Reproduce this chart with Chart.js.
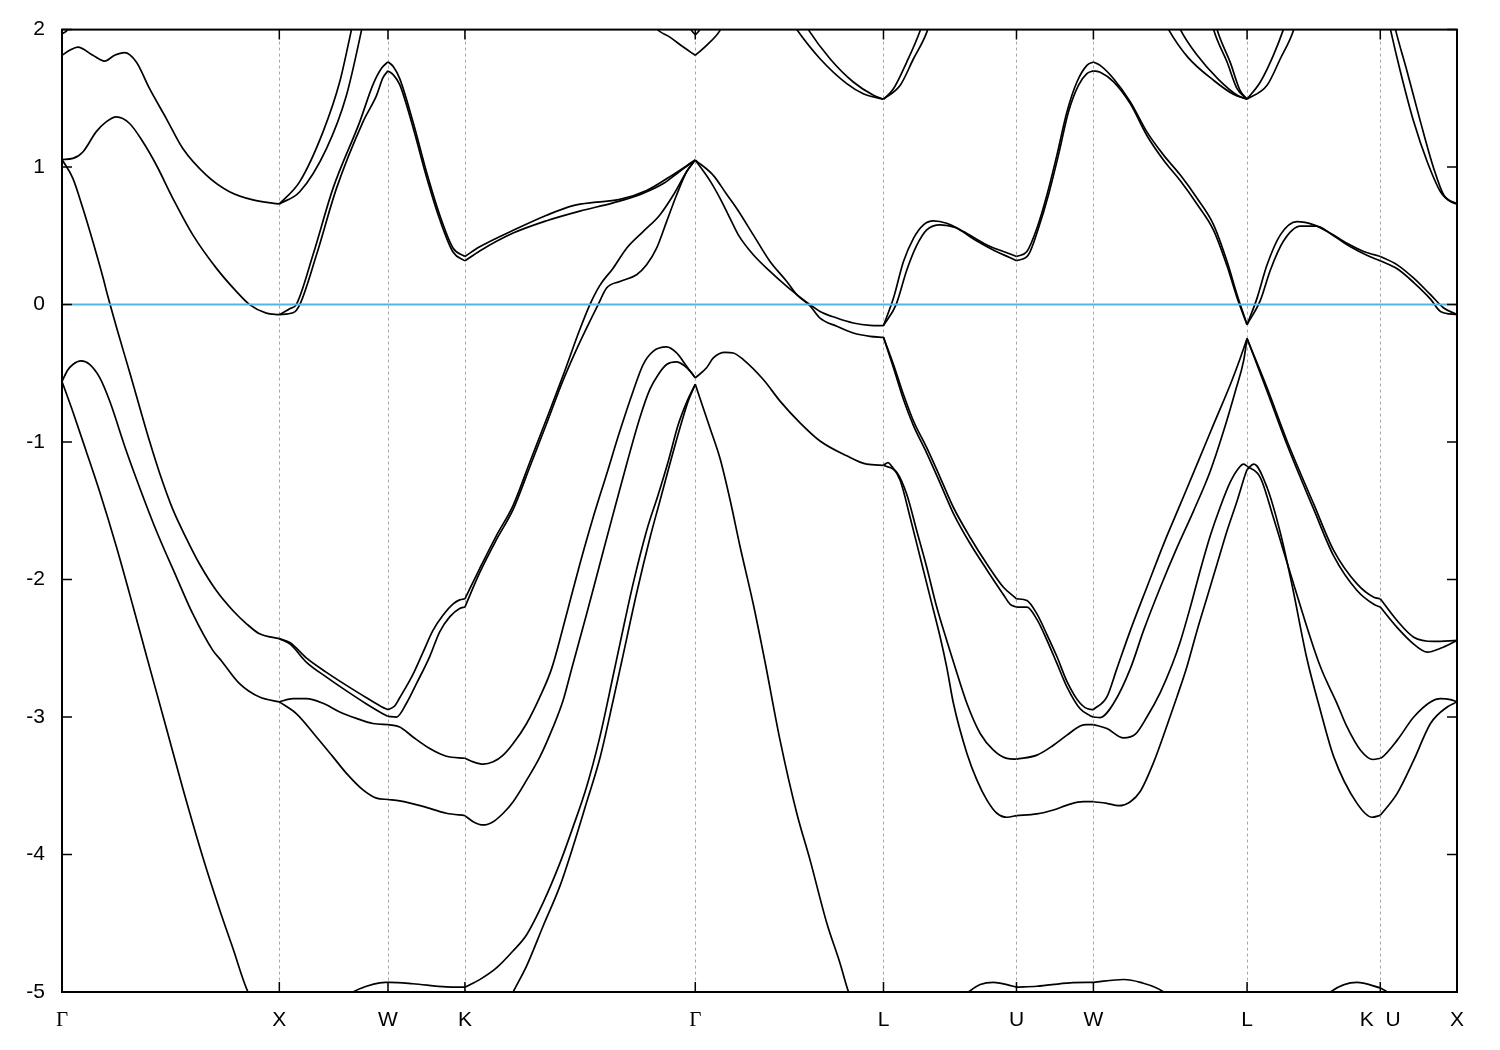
<!DOCTYPE html>
<html>
<head>
<meta charset="utf-8">
<script src="https://cdn.jsdelivr.net/npm/chart.js@4.4.1/dist/chart.umd.min.js"></script>
<style>
    html, body { margin: 0; padding: 0; background: #fff; }
    #wrap { width: 1500px; height: 1050px; }
</style>
</head>
<body>
<div id="wrap"><canvas id="bands" width="1500" height="1050"></canvas></div>
<script>
// high symmetry points along the path (2pi/a units)
var kPoints = [0, 1.0, 1.5, 1.854, 2.914, 3.780, 4.392, 4.746, 5.453, 6.066, 6.419];
var kLabels = ['Γ', 'X', 'W', 'K', 'Γ', 'L', 'U', 'W', 'L', 'K  U', 'X'];
var energyTicks = [2, 1, 0, -1, -2, -3, -4, -5];
var fermiLevel = 0;

// band lines per path segment, [k, E(eV)]
var bandsGX = [
    [[0,-0.56],[0.05,-0.78],[0.111,-1.065],[0.173,-1.36],[0.25,-1.76],[0.326,-2.19],[0.388,-2.55],[0.48,-3.08],[0.556,-3.52],[0.648,-4.02],[0.725,-4.4],[0.786,-4.68],[0.856,-5.0],[1.0,-5.3]],
    [[0,-0.56],[0.025,-0.48],[0.05,-0.436],[0.088,-0.41],[0.127,-0.435],[0.173,-0.53],[0.219,-0.7],[0.296,-1.065],[0.357,-1.33],[0.434,-1.645],[0.526,-1.98],[0.602,-2.25],[0.694,-2.515],[0.733,-2.59],[0.817,-2.757],[0.909,-2.855],[1.0,-2.89]],
    [[0,1.055],[0.05,0.918],[0.096,0.7],[0.142,0.458],[0.188,0.2],[0.211,0.06],[0.257,-0.2],[0.311,-0.49],[0.357,-0.745],[0.403,-0.995],[0.449,-1.225],[0.51,-1.49],[0.572,-1.7],[0.633,-1.887],[0.71,-2.08],[0.786,-2.225],[0.848,-2.32],[0.909,-2.395],[1.0,-2.43]],
    [[0,1.055],[0.05,1.063],[0.096,1.11],[0.157,1.256],[0.203,1.329],[0.25,1.365],[0.311,1.317],[0.372,1.184],[0.434,1.015],[0.51,0.773],[0.602,0.507],[0.71,0.265],[0.802,0.096],[0.863,0.0],[0.94,-0.062],[1.0,-0.073]],
    [[0,1.813],[0.035,1.849],[0.073,1.873],[0.142,1.813],[0.196,1.771],[0.242,1.813],[0.288,1.832],[0.342,1.764],[0.403,1.57],[0.48,1.353],[0.556,1.135],[0.664,0.942],[0.771,0.821],[0.879,0.761],[1.0,0.732]],
    [[0,1.97],[0.025,2.0],[0.06,2.2]]
];
var bandsXW = [
    [[1.0,-5.3],[1.15,-5.22],[1.339,-5.0],[1.401,-4.958],[1.462,-4.933],[1.5,-4.93]],
    [[1.0,-2.89],[1.078,-2.975],[1.171,-3.145],[1.247,-3.29],[1.309,-3.41],[1.385,-3.53],[1.447,-3.59],[1.5,-3.6]],
    [[1.0,-2.89],[1.063,-2.866],[1.124,-2.866],[1.201,-2.9],[1.278,-2.963],[1.355,-3.01],[1.431,-3.047],[1.5,-3.055]],
    [[1.0,-2.43],[1.05,-2.46],[1.124,-2.57],[1.217,-2.675],[1.309,-2.77],[1.401,-2.86],[1.47,-2.925],[1.5,-2.946]],
    [[1.0,-2.43],[1.05,-2.47],[1.124,-2.6],[1.217,-2.71],[1.309,-2.81],[1.401,-2.905],[1.47,-2.97],[1.5,-2.995]],
    [[1.0,-0.073],[1.063,-0.06],[1.094,0.0],[1.171,0.362],[1.263,0.845],[1.385,1.329],[1.447,1.52],[1.477,1.65],[1.5,1.7]],
    [[1.0,-0.073],[1.048,-0.03],[1.078,0.0],[1.155,0.362],[1.247,0.845],[1.37,1.329],[1.431,1.6],[1.471,1.72],[1.5,1.765]],
    [[1.0,0.732],[1.094,0.894],[1.201,1.256],[1.278,1.62],[1.332,2.0],[1.4,2.5]],
    [[1.0,0.732],[1.094,0.821],[1.217,1.135],[1.309,1.523],[1.378,1.994],[1.43,2.4]]
];
var bandsWK = [
    [[1.5,-4.93],[1.508,-4.93],[1.615,-4.94],[1.769,-4.963],[1.854,-4.965]],
    [[1.5,-3.6],[1.554,-3.61],[1.661,-3.65],[1.769,-3.7],[1.854,-3.717]],
    [[1.5,-3.055],[1.554,-3.072],[1.615,-3.145],[1.692,-3.229],[1.769,-3.285],[1.854,-3.3]],
    [[1.5,-2.946],[1.531,-2.92],[1.554,-2.86],[1.615,-2.69],[1.661,-2.53],[1.707,-2.37],[1.753,-2.26],[1.8,-2.177],[1.83,-2.148],[1.854,-2.14]],
    [[1.5,-2.995],[1.539,-3.0],[1.585,-2.9],[1.631,-2.757],[1.692,-2.56],[1.738,-2.38],[1.785,-2.27],[1.83,-2.21],[1.854,-2.2]],
    [[1.5,1.765],[1.525,1.73],[1.554,1.643],[1.615,1.329],[1.677,0.966],[1.738,0.652],[1.8,0.41],[1.854,0.35]],
    [[1.5,1.7],[1.525,1.67],[1.554,1.6],[1.615,1.29],[1.677,0.93],[1.738,0.62],[1.8,0.38],[1.854,0.318]]
];
var bandsKG = [
    [[1.854,-5.6],[1.95,-5.42],[2.076,-5.0],[2.138,-4.81],[2.214,-4.52],[2.291,-4.23],[2.352,-3.94],[2.414,-3.62],[2.475,-3.3],[2.536,-2.88],[2.575,-2.6],[2.644,-2.1],[2.705,-1.7],[2.751,-1.43],[2.797,-1.16],[2.843,-0.9],[2.882,-0.7],[2.914,-0.58]],
    [[1.854,-4.965],[1.922,-4.91],[1.999,-4.825],[2.076,-4.7],[2.138,-4.583],[2.214,-4.35],[2.291,-4.063],[2.352,-3.797],[2.414,-3.507],[2.475,-3.144],[2.536,-2.7],[2.59,-2.3],[2.628,-2.03],[2.69,-1.645],[2.744,-1.379],[2.79,-1.137],[2.836,-0.871],[2.877,-0.7],[2.914,-0.58]],
    [[1.854,-3.717],[1.892,-3.761],[1.938,-3.785],[1.984,-3.761],[2.03,-3.7],[2.076,-3.616],[2.138,-3.459],[2.199,-3.29],[2.26,-3.072],[2.306,-2.878],[2.345,-2.65],[2.414,-2.25],[2.475,-1.887],[2.536,-1.524],[2.598,-1.161],[2.659,-0.823],[2.705,-0.617],[2.744,-0.508],[2.782,-0.436],[2.828,-0.417],[2.866,-0.448],[2.897,-0.497],[2.914,-0.533]],
    [[1.854,-3.3],[1.892,-3.326],[1.938,-3.343],[1.984,-3.326],[2.03,-3.277],[2.076,-3.193],[2.138,-3.047],[2.199,-2.854],[2.253,-2.648],[2.322,-2.25],[2.383,-1.887],[2.444,-1.549],[2.506,-1.234],[2.567,-0.92],[2.628,-0.63],[2.674,-0.436],[2.72,-0.34],[2.782,-0.308],[2.828,-0.352],[2.874,-0.448],[2.914,-0.533]],
    [[1.854,-2.14],[1.922,-1.92],[1.999,-1.68],[2.076,-1.46],[2.153,-1.145],[2.23,-0.83],[2.306,-0.515],[2.383,-0.18],[2.429,0.0],[2.475,0.14],[2.536,0.265],[2.598,0.41],[2.674,0.531],[2.751,0.652],[2.813,0.797],[2.874,0.966],[2.914,1.051]],
    [[1.854,-2.2],[1.922,-1.95],[1.999,-1.71],[2.076,-1.49],[2.153,-1.18],[2.23,-0.865],[2.306,-0.55],[2.375,-0.3],[2.467,0.0],[2.506,0.12],[2.567,0.168],[2.644,0.217],[2.69,0.289],[2.736,0.41],[2.782,0.603],[2.828,0.797],[2.874,0.966],[2.914,1.051]],
    [[1.854,0.35],[1.922,0.42],[2.076,0.54],[2.23,0.65],[2.352,0.72],[2.46,0.745],[2.567,0.765],[2.69,0.83],[2.797,0.93],[2.914,1.051]],
    [[1.854,0.318],[1.922,0.39],[2.076,0.52],[2.23,0.61],[2.383,0.68],[2.536,0.74],[2.659,0.8],[2.767,0.88],[2.843,0.97],[2.914,1.051]],
    [[2.7,2.1],[2.736,2.006],[2.797,1.945],[2.859,1.873],[2.914,1.813]],
    [[2.87,2.1],[2.895,2.0],[2.914,1.962]]
];
var bandsGL = [
    [[2.914,-0.58],[2.982,-0.9],[3.028,-1.12],[3.074,-1.42],[3.12,-1.76],[3.181,-2.18],[3.235,-2.6],[3.304,-3.168],[3.381,-3.7],[3.442,-4.039],[3.519,-4.498],[3.58,-4.79],[3.618,-4.994],[3.7,-5.3],[3.78,-5.4]],
    [[2.914,-0.533],[2.966,-0.46],[2.997,-0.388],[3.051,-0.347],[3.089,-0.352],[3.135,-0.4],[3.227,-0.545],[3.304,-0.702],[3.396,-0.86],[3.488,-0.992],[3.611,-1.1],[3.703,-1.161],[3.78,-1.169]],
    [[2.914,1.051],[2.997,0.94],[3.059,0.8],[3.104,0.7],[3.181,0.507],[3.258,0.313],[3.335,0.168],[3.381,0.072],[3.442,0.0],[3.488,-0.05],[3.565,-0.098],[3.641,-0.134],[3.718,-0.151],[3.78,-0.153]],
    [[2.914,1.051],[2.982,0.9],[3.028,0.773],[3.074,0.627],[3.112,0.507],[3.181,0.362],[3.258,0.241],[3.335,0.132],[3.381,0.072],[3.442,-0.01],[3.488,-0.098],[3.565,-0.158],[3.641,-0.207],[3.718,-0.231],[3.78,-0.238]],
    [[3.3,2.2],[3.381,2.0],[3.488,1.788],[3.611,1.607],[3.687,1.534],[3.78,1.494]],
    [[3.36,2.2],[3.434,2.0],[3.534,1.788],[3.641,1.619],[3.734,1.523],[3.78,1.494]],
    [[2.914,1.813],[2.966,1.885],[3.028,1.994],[3.06,2.1]],
    [[2.914,1.962],[2.935,2.0],[2.96,2.1]]
];
var bandsLU = [
    [[3.78,-5.4],[4.0,-5.22],[4.171,-5.0],[4.225,-4.946],[4.286,-4.93],[4.348,-4.946],[4.392,-4.965]],
    [[3.78,-1.169],[3.801,-1.15],[3.815,-1.17],[3.857,-1.28],[3.903,-1.55],[3.949,-1.84],[3.995,-2.13],[4.041,-2.42],[4.071,-2.637],[4.102,-2.902],[4.164,-3.265],[4.21,-3.459],[4.256,-3.604],[4.302,-3.7],[4.348,-3.729],[4.392,-3.717]],
    [[3.78,-1.169],[3.841,-1.22],[3.887,-1.38],[3.933,-1.645],[3.979,-1.91],[4.025,-2.2],[4.071,-2.443],[4.102,-2.6],[4.164,-2.902],[4.225,-3.12],[4.286,-3.241],[4.348,-3.301],[4.392,-3.306]],
    [[3.78,-0.238],[3.826,-0.436],[3.872,-0.654],[3.918,-0.847],[3.979,-1.041],[4.041,-1.258],[4.102,-1.476],[4.179,-1.694],[4.256,-1.887],[4.332,-2.056],[4.392,-2.14]],
    [[3.78,-0.238],[3.826,-0.46],[3.872,-0.69],[3.918,-0.88],[3.979,-1.08],[4.041,-1.3],[4.102,-1.52],[4.179,-1.74],[4.256,-1.93],[4.332,-2.11],[4.363,-2.18],[4.392,-2.2]],
    [[3.78,-0.153],[3.826,0.047],[3.872,0.313],[3.918,0.482],[3.964,0.58],[4.01,0.609],[4.071,0.591],[4.148,0.531],[4.256,0.434],[4.332,0.386],[4.392,0.35]],
    [[3.78,-0.153],[3.838,0.0],[3.887,0.25],[3.933,0.43],[3.979,0.543],[4.041,0.58],[4.11,0.56],[4.202,0.47],[4.294,0.39],[4.363,0.34],[4.392,0.318]],
    [[3.78,1.494],[3.826,1.57],[3.887,1.764],[3.949,1.994],[3.99,2.2]],
    [[3.78,1.494],[3.857,1.595],[3.918,1.788],[3.979,1.98],[4.02,2.2]]
];
var bandsUW = [
    [[4.392,-4.965],[4.486,-4.958],[4.639,-4.933],[4.746,-4.93]],
    [[4.392,-3.717],[4.486,-3.705],[4.562,-3.676],[4.639,-3.633],[4.7,-3.616],[4.746,-3.616]],
    [[4.392,-3.306],[4.486,-3.277],[4.562,-3.205],[4.624,-3.132],[4.685,-3.065],[4.716,-3.055],[4.746,-3.055]],
    [[4.392,-2.14],[4.44,-2.153],[4.486,-2.25],[4.532,-2.4],[4.578,-2.56],[4.624,-2.74],[4.685,-2.9],[4.731,-2.945],[4.746,-2.946]],
    [[4.392,-2.2],[4.44,-2.2],[4.486,-2.29],[4.532,-2.44],[4.578,-2.61],[4.624,-2.78],[4.685,-2.94],[4.731,-2.99],[4.746,-3.0]],
    [[4.392,0.35],[4.44,0.386],[4.486,0.555],[4.532,0.797],[4.578,1.087],[4.624,1.401],[4.67,1.619],[4.716,1.74],[4.746,1.765]],
    [[4.392,0.318],[4.447,0.362],[4.493,0.555],[4.539,0.797],[4.585,1.087],[4.631,1.401],[4.677,1.595],[4.716,1.68],[4.746,1.7]]
];
var bandsWL = [
    [[4.746,-4.93],[4.885,-4.909],[4.962,-4.93],[5.069,-5.0],[5.25,-5.3],[5.453,-5.45]],
    [[4.746,-3.055],[4.808,-3.084],[4.885,-3.152],[4.939,-3.125],[4.992,-3.0],[5.054,-2.82],[5.108,-2.62],[5.146,-2.45],[5.192,-2.2],[5.238,-1.93],[5.284,-1.68],[5.33,-1.47],[5.376,-1.29],[5.414,-1.19],[5.437,-1.161],[5.453,-1.175]],
    [[4.746,-3.616],[4.808,-3.628],[4.862,-3.645],[4.916,-3.616],[4.962,-3.54],[5.023,-3.33],[5.085,-3.06],[5.131,-2.85],[5.177,-2.63],[5.223,-2.37],[5.269,-2.129],[5.315,-1.887],[5.361,-1.645],[5.407,-1.428],[5.445,-1.234],[5.453,-1.2]],
    [[4.746,-2.946],[4.808,-2.854],[4.854,-2.648],[4.916,-2.37],[4.992,-2.056],[5.069,-1.742],[5.146,-1.452],[5.223,-1.161],[5.299,-0.871],[5.376,-0.581],[5.422,-0.388],[5.453,-0.247]],
    [[4.746,-3.0],[4.777,-3.004],[4.839,-2.9],[4.916,-2.648],[4.977,-2.37],[5.054,-2.056],[5.131,-1.766],[5.207,-1.5],[5.284,-1.21],[5.345,-0.92],[5.399,-0.63],[5.437,-0.41],[5.453,-0.247]],
    [[4.746,1.765],[4.777,1.74],[4.839,1.643],[4.916,1.474],[4.992,1.256],[5.069,1.087],[5.146,0.942],[5.223,0.773],[5.299,0.58],[5.361,0.313],[5.407,0.072],[5.453,-0.146]],
    [[4.746,1.7],[4.777,1.69],[4.839,1.62],[4.916,1.46],[4.992,1.23],[5.069,1.05],[5.146,0.9],[5.223,0.73],[5.299,0.54],[5.361,0.28],[5.407,0.05],[5.453,-0.146]],
    [[5.03,2.2],[5.092,2.0],[5.18,1.8],[5.3,1.63],[5.39,1.53],[5.453,1.494]],
    [[5.09,2.2],[5.146,2.0],[5.22,1.82],[5.32,1.64],[5.41,1.52],[5.453,1.494]],
    [[5.27,2.2],[5.299,2.0],[5.361,1.764],[5.407,1.57],[5.453,1.494]],
    [[5.285,2.2],[5.315,2.0],[5.376,1.76],[5.42,1.56],[5.453,1.494]]
];
var bandsLK = [
    [[5.453,-5.45],[5.7,-5.25],[5.837,-5.0],[5.959,-4.93],[6.066,-4.97]],
    [[5.453,-1.175],[5.514,-1.258],[5.574,-1.549],[5.653,-1.959],[5.787,-2.62],[5.867,-2.902],[5.913,-3.072],[5.975,-3.241],[6.033,-3.309],[6.066,-3.3]],
    [[5.453,-1.2],[5.484,-1.161],[5.545,-1.331],[5.606,-1.66],[5.66,-2.04],[5.729,-2.58],[5.79,-2.95],[5.852,-3.29],[5.959,-3.628],[6.028,-3.729],[6.066,-3.715]],
    [[5.453,-0.247],[5.545,-0.606],[5.637,-0.992],[5.76,-1.452],[5.852,-1.79],[5.959,-2.032],[6.036,-2.129],[6.066,-2.14]],
    [[5.453,-0.247],[5.545,-0.63],[5.637,-1.02],[5.76,-1.49],[5.852,-1.83],[5.959,-2.08],[6.036,-2.18],[6.066,-2.2]],
    [[5.453,-0.146],[5.499,0.047],[5.545,0.289],[5.606,0.507],[5.683,0.603],[5.76,0.58],[5.837,0.519],[5.913,0.446],[5.99,0.386],[6.066,0.35]],
    [[5.453,-0.146],[5.514,0.03],[5.56,0.25],[5.62,0.46],[5.698,0.57],[5.772,0.57],[5.851,0.5],[5.929,0.42],[6.002,0.36],[6.066,0.318]],
    [[5.453,1.494],[5.514,1.619],[5.574,1.813],[5.62,2.0],[5.66,2.2]],
    [[5.453,1.494],[5.545,1.595],[5.606,1.788],[5.668,2.0],[5.7,2.2]]
];
var bandsUX = [
    [[6.066,-4.97],[6.098,-5.0],[6.25,-5.2],[6.419,-5.3]],
    [[6.066,-3.3],[6.074,-3.294],[6.144,-3.168],[6.22,-3.0],[6.297,-2.89],[6.343,-2.866],[6.389,-2.873],[6.419,-2.89]],
    [[6.066,-3.715],[6.144,-3.555],[6.22,-3.314],[6.297,-3.047],[6.374,-2.927],[6.419,-2.89]],
    [[6.066,-2.14],[6.144,-2.3],[6.22,-2.419],[6.312,-2.45],[6.419,-2.443]],
    [[6.066,-2.2],[6.144,-2.35],[6.22,-2.47],[6.282,-2.528],[6.343,-2.5],[6.419,-2.443]],
    [[6.066,0.35],[6.144,0.289],[6.22,0.192],[6.297,0.072],[6.358,-0.025],[6.419,-0.073]],
    [[6.066,0.318],[6.144,0.26],[6.22,0.16],[6.297,0.04],[6.343,-0.05],[6.419,-0.073]],
    [[6.08,2.25],[6.113,2.0],[6.159,1.692],[6.22,1.329],[6.282,1.039],[6.343,0.821],[6.389,0.749],[6.419,0.732]],
    [[6.1,2.25],[6.136,2.0],[6.19,1.692],[6.251,1.329],[6.312,0.99],[6.358,0.797],[6.419,0.732]]
];

var segments = [bandsGX, bandsXW, bandsWK, bandsKG, bandsGL, bandsLU, bandsUW, bandsWL, bandsLK, bandsUX];
var kMax = kPoints[kPoints.length - 1];

var datasets = [{
    data: [{x: 0, y: fermiLevel}, {x: kMax, y: fermiLevel}],
    borderColor: '#56b4e9',
    borderWidth: 2,
    showLine: true,
    order: 0
}];
segments.forEach(function (seg) {
    seg.forEach(function (line) {
        datasets.push({
            data: line.map(function (p) { return {x: p[0], y: p[1]}; }),
            borderColor: '#000',
            borderWidth: 1.7,
            showLine: true,
            order: 1
        });
    });
});

// gnuplot style frame: dashed verticals, inward ticks, box
var framePlugin = {
    id: 'frame',
    beforeDatasetsDraw: function (chart) {
        var ctx = chart.ctx, a = chart.chartArea, x = chart.scales.x;
        ctx.save();
        ctx.strokeStyle = '#a8a8a8';
        ctx.lineWidth = 1;
        ctx.setLineDash([3, 3]);
        kPoints.slice(1, -1).forEach(function (k) {
            var px = Math.round(x.getPixelForValue(k)) + 0.5;
            ctx.beginPath();
            ctx.moveTo(px, a.top);
            ctx.lineTo(px, a.bottom);
            ctx.stroke();
        });
        ctx.restore();
    },
    afterDatasetsDraw: function (chart) {
        var ctx = chart.ctx, a = chart.chartArea, x = chart.scales.x, y = chart.scales.y;
        ctx.save();
        ctx.strokeStyle = '#000';
        ctx.lineWidth = 1.5;
        ctx.beginPath();
        kPoints.forEach(function (k) {
            var px = x.getPixelForValue(k);
            ctx.moveTo(px, a.bottom); ctx.lineTo(px, a.bottom - 10);
            ctx.moveTo(px, a.top); ctx.lineTo(px, a.top + 10);
        });
        energyTicks.forEach(function (e) {
            var py = y.getPixelForValue(e);
            ctx.moveTo(a.left, py); ctx.lineTo(a.left + 10, py);
            ctx.moveTo(a.right, py); ctx.lineTo(a.right - 10, py);
        });
        ctx.stroke();
        ctx.lineWidth = 2;
        ctx.strokeRect(a.left, a.top, a.right - a.left, a.bottom - a.top);
        ctx.restore();
    }
};

var chart = new Chart(document.getElementById('bands').getContext('2d'), {
    type: 'scatter',
    data: { datasets: datasets },
    plugins: [framePlugin],
    options: {
        responsive: false,
        animation: false,
        elements: {
            point: { radius: 0 },
            line: { cubicInterpolationMode: 'monotone', fill: false }
        },
        plugins: { legend: { display: false }, tooltip: { enabled: false } },
        layout: { padding: { top: 27, right: 43, left: 0, bottom: 0 } },
        scales: {
            x: {
                type: 'linear',
                min: 0,
                max: kMax,
                grid: { display: false, drawTicks: false },
                border: { display: false },
                afterBuildTicks: function (s) { s.ticks = kPoints.map(function (v) { return {value: v}; }); },
                afterFit: function (s) { s.height = 58; },
                ticks: {
                    autoSkip: false,
                    maxRotation: 0,
                    padding: 16,
                    color: '#000',
                    font: function (c) {
                        return { family: kLabels[c.index] === 'Γ' ? 'Liberation Serif' : 'Liberation Sans', size: 21 };
                    },
                    callback: function (v, i) { return kLabels[i]; }
                }
            },
            y: {
                min: -5,
                max: 2,
                grid: { display: false, drawTicks: false },
                border: { display: false },
                afterBuildTicks: function (s) { s.ticks = energyTicks.map(function (v) { return {value: v}; }); },
                afterFit: function (s) { s.width = 62; },
                ticks: {
                    padding: 17,
                    color: '#000',
                    font: { family: 'Liberation Sans', size: 21 },
                    callback: function (v) { return String(v); }
                }
            }
        }
    }
});
</script>
</body>
</html>
